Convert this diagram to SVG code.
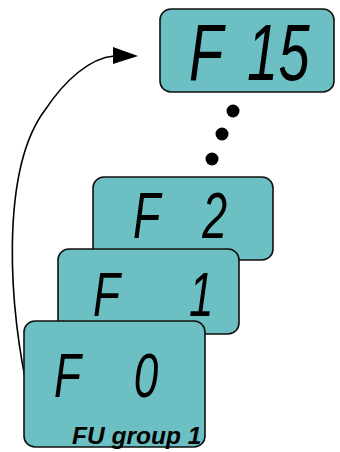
<svg xmlns="http://www.w3.org/2000/svg" width="340" height="452" viewBox="0 0 340 452">
<style>
.box{fill:#6cbfc2;stroke:#111;stroke-width:1.6}
.lcd{font-family:"Liberation Sans",Arial,sans-serif;font-style:italic;fill:#000}
.cap{font-family:"Liberation Sans",Arial,sans-serif;font-style:italic;font-weight:bold;fill:#000}
.conn{fill:none;stroke:#000;stroke-width:1.6}
</style>
<g id="connectors">
<path class="conn" d="M30,400 C8,310 0,170 45,110 C65,80 90,58 114,56" />
<path d="M113,47 L138,56 L113,64 Z" fill="#000"/>
<circle cx="233" cy="111" r="6.5" fill="#000"/>
<circle cx="222" cy="134" r="6.5" fill="#000"/>
<circle cx="212" cy="159" r="6.5" fill="#000"/>
</g>
<g id="node-f15">
<rect class="box" x="160" y="9" width="174" height="83" rx="11"/>
<text class="lcd" font-size="80" transform="translate(0,80) scale(0.7,1)"><tspan x="270">F</tspan><tspan x="353">1</tspan><tspan x="398">5</tspan></text>
</g>
<g id="node-f2">
<rect class="box" x="93" y="177" width="180" height="83" rx="11"/>
<text class="lcd" font-size="64" transform="translate(0,238) scale(0.7,1)"><tspan x="190">F</tspan><tspan x="289">2</tspan></text>
</g>
<g id="node-f1">
<rect class="box" x="58" y="249" width="181" height="85" rx="11"/>
<text class="lcd" font-size="63" transform="translate(0,316) scale(0.7,1)"><tspan x="133">F</tspan><tspan x="270">1</tspan></text>
</g>
<g id="node-f0">
<rect class="box" x="24" y="321" width="181" height="126" rx="11"/>
<text class="lcd" font-size="63" transform="translate(0,397) scale(0.7,1)"><tspan x="77">F</tspan><tspan x="191">0</tspan></text>
<text class="cap" x="72" y="444" font-size="24.5">FU group 1</text>
</g>
</svg>
